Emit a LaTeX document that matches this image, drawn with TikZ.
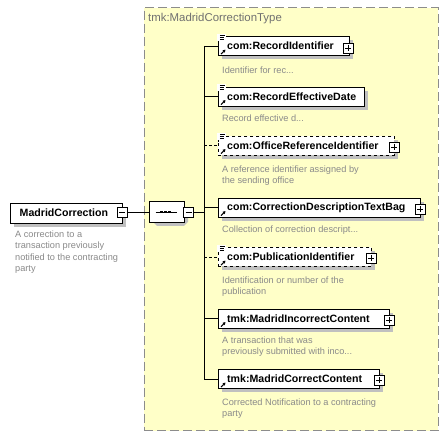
\documentclass[tikz,border=0pt]{standalone}
\usepackage{fontspec}
\setmainfont{Liberation Sans}
\usetikzlibrary{shapes.misc,arrows.meta}
\definecolor{typefill}{HTML}{FFFFC8}
\definecolor{typeborder}{HTML}{8C8C8C}
\definecolor{desccol}{HTML}{8A8A8A}
\definecolor{labelcol}{HTML}{707070}
\definecolor{shadowcol}{HTML}{C0C0C0}
\tikzset{
  elem/.style={draw=black, fill=white, line width=0.8pt, minimum height=19pt, inner sep=0pt},
  nm/.style={font=\fontsize{10.6}{12}\selectfont\bfseries, inner sep=0pt, text=black},
  desc/.style={font=\fontsize{9.2}{11.5}\selectfont, text=desccol, inner sep=0pt, align=left, anchor=north west},
  conn/.style={draw=black, line width=0.8pt},
  optconn/.style={draw=black, line width=0.8pt, dash pattern=on 3pt off 2pt},
  pmbox/.style={draw=black, fill=white, line width=0.7pt, minimum size=10pt, inner sep=0pt},
  plusbox/.style={pmbox, path picture={
      \draw[line width=0.7pt] ([xshift=2pt]path picture bounding box.west) -- ([xshift=-2pt]path picture bounding box.east);
      \draw[line width=0.7pt] ([yshift=-2pt]path picture bounding box.north) -- ([yshift=2pt]path picture bounding box.south);}},
  minusbox/.style={pmbox, path picture={
      \draw[line width=0.7pt] ([xshift=2pt]path picture bounding box.west) -- ([xshift=-2pt]path picture bounding box.east);}},
  seqbox/.style={chamfered rectangle, chamfered rectangle xsep=4pt, chamfered rectangle ysep=4pt, draw=black, fill=white, line width=0.8pt,
    minimum width=35pt, minimum height=21pt, inner sep=0pt},
}
% #1 name, #2 centre y, #3 right x, #4 text, #5 line style
\newcommand\mkelem[5]{%
  \fill[shadowcol] (222,#2-5.5) rectangle (#3+4,#2+13.5);
  \node[elem,#5, minimum width={#3-218}, anchor=west] (#1) at (218,#2) {};
  \node[nm, anchor=west] (#1t) at (227,#2) {#4};
  \draw[line width=1pt, -{Triangle[length=2.6pt,width=3pt]}] ([xshift=3pt,yshift=1.8pt]#1.south west) -- ([xshift=7.5pt,yshift=6.3pt]#1.south west);
}
\newcommand\linesicon[1]{%
  \fill[white] ([xshift=-1pt,yshift=2.2pt]#1.north west) rectangle ([xshift=8pt,yshift=-4.8pt]#1.north west);
  \draw[line width=0.7pt] ([xshift=1.8pt,yshift=0.9pt]#1.north west) -- ([xshift=7.2pt,yshift=0.9pt]#1.north west);
  \draw[line width=0.7pt] ([xshift=1.8pt,yshift=-1.1pt]#1.north west) -- ([xshift=6.2pt,yshift=-1.1pt]#1.north west);
  \draw[line width=0.7pt] ([xshift=1.8pt,yshift=-3.1pt]#1.north west) -- ([xshift=6.2pt,yshift=-3.1pt]#1.north west);
  \draw[line width=0.8pt] ([yshift=-4.8pt]#1.north west) -- ([yshift=-6pt]#1.north west);
}
\begin{document}
\begin{tikzpicture}[x=1pt,y=-1pt]
\useasboundingbox (0,0) rectangle (448,435);
\fill[white] (0,0) rectangle (448,435);
% type container
\node[draw=typeborder, fill=typefill, line width=1.2pt, dash pattern=on 9pt off 4pt, inner sep=0pt,
  minimum width=294pt, minimum height=423pt, anchor=north west] (typebox) at (143.5,7) {};
\node[font=\fontsize{11.4}{13}\selectfont, text=labelcol, inner sep=0pt, anchor=west] (typelabel) at (148,18.5) {tmk:MadridCorrectionType};

% root element
\fill[shadowcol] (14,207) rectangle (126,227);
\node[elem, minimum width=112pt, minimum height=20pt, anchor=west] (root) at (10,213) {};
\node[nm, anchor=west] (roott) at (19.5,213) {MadridCorrection};
\node[minusbox] (rootminus) at (122,212) {};
\node[desc] (rootdesc) at (15,230.5) {A correction to a\\transaction previously\\notified to the contracting\\party};

% sequence
\fill[shadowcol] (155,206) -- (184,206) -- (188,210) -- (188,222) -- (184,226) -- (157,226) -- (153,222) -- cycle;
\node[seqbox] (seq) at (166.5,212) {};
\node[minusbox] (seqminus) at (188.5,212) {};
\draw[line width=0.9pt] ([xshift=7pt]seq.west) -- ([xshift=-7pt]seq.east);
\fill (160.3,210.8) rectangle (162.7,213.2);
\fill (164.3,210.8) rectangle (166.7,213.2);
\fill (168.3,210.8) rectangle (170.7,213.2);
\coordinate (bartop) at (204,46);
\coordinate (barbot) at (204,379);
\draw[conn] (rootminus.east) -- (seq.west);
\draw[conn] (seqminus.east) -- (seqminus.east -| bartop);
\draw[conn] (bartop) -- (barbot);

% children
\mkelem{e1}{46}{349}{com:RecordIdentifier}{solid}
\linesicon{e1}
\node[plusbox] (e1p) at (348,48) {};
\node[desc] (e1d) at (222,66.5) {Identifier for rec...};

\mkelem{e2}{96.5}{364}{com:RecordEffectiveDate}{solid}
\linesicon{e2}
\node[desc] (e2d) at (222,114.5) {Record effective d...};

\mkelem{e3}{145.5}{394}{com:OfficeReferenceIdentifier}{dashed}
\linesicon{e3}
\node[plusbox] (e3p) at (394,147) {};
\node[desc] (e3d) at (222,165.5) {A reference identifier assigned by\\the sending office};

\mkelem{e4}{207.5}{420}{com:CorrectionDescriptionTextBag}{solid}
\node[plusbox] (e4p) at (420,209) {};
\node[desc] (e4d) at (222,225.5) {Collection of correction descript...};

\mkelem{e5}{257}{371}{com:PublicationIdentifier}{dashed}
\linesicon{e5}
\node[plusbox] (e5p) at (371,258.5) {};
\node[desc] (e5d) at (222,276.5) {Identification or number of the\\publication};

\mkelem{e6}{318.5}{389}{tmk:MadridIncorrectContent}{solid}
\node[plusbox] (e6p) at (389,320) {};
\node[desc] (e6d) at (222,336.5) {A transaction that was\\previously submitted with inco...};

\mkelem{e7}{379}{379}{tmk:MadridCorrectContent}{solid}
\node[plusbox] (e7p) at (379,380.5) {};
\node[desc] (e7d) at (222,398.5) {Corrected Notification to a contracting\\party};

% connectors
\draw[conn] (e1.west -| bartop) -- (e1.west);
\draw[conn] (e2.west -| bartop) -- (e2.west);
\draw[optconn] (e3.west -| bartop) -- (e3.west);
\draw[conn] (e4.west -| bartop) -- (e4.west);
\draw[optconn] (e5.west -| bartop) -- (e5.west);
\draw[conn] (e6.west -| bartop) -- (e6.west);
\draw[conn] (e7.west -| bartop) -- (e7.west);
\end{tikzpicture}
\end{document}
